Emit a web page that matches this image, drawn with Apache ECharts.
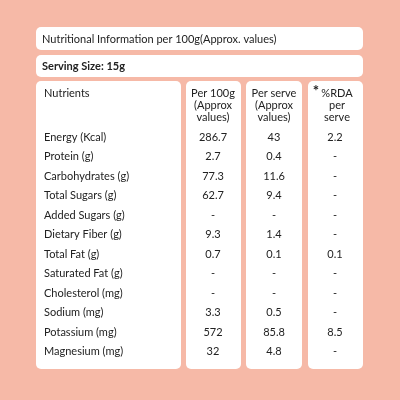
<!DOCTYPE html>
<html><head><meta charset="utf-8">
<script src="https://cdn.jsdelivr.net/npm/echarts@6/dist/echarts.min.js"></script>
<style>html,body{margin:0;padding:0;background:#f6b9a7}#c{width:400px;height:400px}</style>
</head><body><div id="c"></div>
<script>
var nutrients=['Energy (Kcal)','Protein (g)','Carbohydrates (g)','Total Sugars (g)','Added Sugars (g)','Dietary Fiber (g)','Total Fat (g)','Saturated Fat (g)','Cholesterol (mg)','Sodium (mg)','Potassium (mg)','Magnesium (mg)'];
var per100=['286.7','2.7','77.3','62.7','-','9.3','0.7','-','-','3.3','572','32'];
var perServe=['43','0.4','11.6','9.4','-','1.4','0.1','-','-','0.5','85.8','4.8'];
var rda=['2.2','-','-','-','-','-','0.1','-','-','-','8.5','-'];

var font='Lato, "Open Sans", sans-serif';
var g=[];
function box(x,y,w,h){g.push({type:'rect',shape:{x:x,y:y,width:w,height:h,r:5},style:{fill:'#fff'}});}
function txt(x,y,s,align,opts){g.push({type:'text',x:x,y:y,style:Object.assign({text:s,font:'11px '+font,fill:'#222',align:align||'left',verticalAlign:'middle'},opts||{})});}

box(36,27,327,23); txt(42,39,'Nutritional Information per 100g(Approx. values)');
box(36,55,327,22); txt(42,66,'Serving Size: 15g','left',{font:'bold 11px '+font});
var cols=[[36,145],[186,55],[246,56],[308,55]];
cols.forEach(function(c){box(c[0],81,c[1],288);});
txt(44,93,'Nutrients');
['Per 100g','(Approx','values)'].forEach(function(s,i){txt(213,93+i*12,s,'center',{lineHeight:12});});
['Per serve','(Approx','values)'].forEach(function(s,i){txt(274,93+i*12,s,'center');});
txt(316,91,'*','center',{font:'bold 15px '+font});
['%RDA','per','serve'].forEach(function(s,i){txt(337,93+i*12,s,'center');});
nutrients.forEach(function(n,i){
  var y=137+i*19.5;
  txt(44,y,n);
  txt(213,y,per100[i],'center');
  txt(274,y,perServe[i],'center');
  txt(335,y,rda[i],'center');
});
var chart=echarts.init(document.getElementById('c'));
chart.setOption({backgroundColor:'#f6b9a7',graphic:g});
</script></body></html>
